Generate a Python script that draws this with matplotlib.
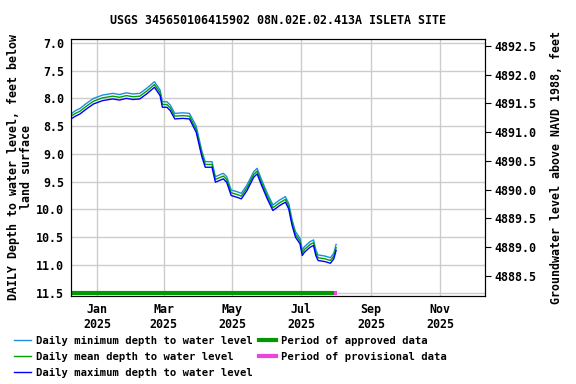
import numpy as np
import pandas as pd
import matplotlib
matplotlib.use("Agg")
import matplotlib.pyplot as plt
import matplotlib.dates as mdates
from matplotlib.lines import Line2D

# fechas de lectura (aprox. cada pocos dias)
fechas = pd.to_datetime([
    "2024-12-09", "2024-12-13", "2024-12-17", "2024-12-22", "2024-12-29",
    "2025-01-06", "2025-01-15", "2025-01-21", "2025-01-27", "2025-02-02",
    "2025-02-08", "2025-02-14", "2025-02-21", "2025-02-26", "2025-02-28",
    "2025-03-04", "2025-03-07", "2025-03-11", "2025-03-18", "2025-03-24",
    "2025-03-30", "2025-04-04", "2025-04-07", "2025-04-13", "2025-04-16",
    "2025-04-23", "2025-04-26", "2025-04-30", "2025-05-05", "2025-05-09",
    "2025-05-14", "2025-05-20", "2025-05-23", "2025-05-27", "2025-06-01",
    "2025-06-06", "2025-06-12", "2025-06-17", "2025-06-20", "2025-06-23",
    "2025-06-26", "2025-06-30", "2025-07-02", "2025-07-04", "2025-07-09",
    "2025-07-12", "2025-07-14", "2025-07-16", "2025-07-22", "2025-07-27",
    "2025-07-30", "2025-08-01",
])

# profundidad media diaria (pies bajo superficie)
media = [8.32, 8.27, 8.23, 8.15, 8.05,
         7.99, 7.96, 7.98, 7.95, 7.97,
         7.96, 7.87, 7.75, 7.90, 8.11,
         8.11, 8.17, 8.32, 8.31, 8.32,
         8.56, 9.00, 9.19, 9.19, 9.46,
         9.40, 9.46, 9.70, 9.73, 9.76,
         9.61, 9.37, 9.31, 9.52, 9.76,
         9.97, 9.88, 9.82, 9.94, 10.24,
         10.45, 10.57, 10.78, 10.72, 10.63,
         10.60, 10.78, 10.87, 10.89, 10.92,
         10.84, 10.69]

# profundidad minima diaria
minimo = [8.28, 8.22, 8.18, 8.10, 8.00,
          7.94, 7.91, 7.93, 7.90, 7.92,
          7.91, 7.82, 7.70, 7.85, 8.06,
          8.06, 8.12, 8.27, 8.26, 8.27,
          8.50, 8.95, 9.14, 9.14, 9.41,
          9.35, 9.41, 9.65, 9.68, 9.71,
          9.56, 9.32, 9.26, 9.47, 9.71,
          9.92, 9.83, 9.77, 9.89, 10.19,
          10.40, 10.52, 10.73, 10.67, 10.58,
          10.55, 10.73, 10.82, 10.84, 10.87,
          10.79, 10.63]

# profundidad maxima diaria
maximo = [8.37, 8.32, 8.28, 8.20, 8.10,
          8.04, 8.01, 8.03, 8.00, 8.02,
          8.01, 7.92, 7.80, 7.95, 8.16,
          8.16, 8.22, 8.37, 8.36, 8.37,
          8.61, 9.05, 9.24, 9.24, 9.51,
          9.45, 9.51, 9.75, 9.78, 9.81,
          9.66, 9.42, 9.36, 9.57, 9.81,
          10.02, 9.93, 9.87, 9.99, 10.29,
          10.50, 10.62, 10.83, 10.77, 10.68,
          10.65, 10.83, 10.92, 10.94, 10.97,
          10.89, 10.74]

periodo_aprobado = pd.to_datetime(["2024-12-09", "2025-07-30"])
periodo_provisional = pd.to_datetime(["2025-07-30", "2025-08-02"])

titulo = "USGS 345650106415902 08N.02E.02.413A ISLETA SITE"
meses = pd.to_datetime(["2025-01-01", "2025-03-01", "2025-05-01",
                        "2025-07-01", "2025-09-01", "2025-11-01"])

fuente = "DejaVu Sans Mono"
c_min = "#1a8fdf"
c_media = "#00a000"
c_max = "#0000ff"
c_aprob = "#009900"
c_prov = "#ee44dd"

fig = plt.figure(figsize=(5.76, 3.84), dpi=100)
ax = fig.add_axes([71/576, 1-296/384, (485-71)/576, (296-39)/384])

ax.plot(fechas, minimo, color=c_min, lw=1)
ax.plot(fechas, media, color=c_media, lw=1)
ax.plot(fechas, maximo, color=c_max, lw=1)
ax.plot(periodo_aprobado, [11.5, 11.5], color=c_aprob, lw=3, solid_capstyle="butt")
ax.plot(periodo_provisional, [11.5, 11.5], color=c_prov, lw=3, solid_capstyle="butt")

ax.set_xlim(pd.Timestamp("2024-12-09"), pd.Timestamp("2025-12-11"))
ax.set_ylim(11.56, 6.93)
ax.set_yticks(np.arange(7.0, 11.51, 0.5))
ax.set_yticklabels([f"{v:.1f}" for v in np.arange(7.0, 11.51, 0.5)],
                   fontfamily=fuente, fontweight="bold", fontsize=8.4)
ax.set_xticks(meses)
ax.set_xticklabels([d.strftime("%b") + "\n2025" for d in meses],
                   fontfamily=fuente, fontweight="bold", fontsize=8.4)
ax.tick_params(axis="both", length=0, pad=5)
ax.grid(color="#cccccc", lw=1)
ax.set_axisbelow(True)

ax2 = ax.twinx()
ax2.set_ylim(4888.15, 4892.62)
ax2.set_yticks(np.arange(4888.5, 4892.51, 0.5))
ax2.set_yticklabels([f"{v:.1f}" for v in np.arange(4888.5, 4892.51, 0.5)],
                    fontfamily=fuente, fontweight="bold", fontsize=8.4)
ax2.tick_params(axis="y", length=4, direction="out", pad=3)

fig.text(278/576, 1-20/384, titulo, ha="center", va="center",
         fontfamily=fuente, fontweight="bold", fontsize=8.4)
fig.text(20/576, 1-167/384, "DAILY Depth to water level, feet below\nland surface",
         ha="center", va="center", rotation=90, fontfamily=fuente,
         fontweight="bold", fontsize=8.4, linespacing=1.0)
fig.text(557/576, 1-167/384, "Groundwater level above NAVD 1988, feet",
         ha="center", va="center", rotation=90, fontfamily=fuente,
         fontweight="bold", fontsize=8.4)

manijas = [
    Line2D([], [], color=c_min, lw=1),
    Line2D([], [], color=c_media, lw=1),
    Line2D([], [], color=c_max, lw=1),
    Line2D([], [], color=c_aprob, lw=3),
    Line2D([], [], color=c_prov, lw=3),
]
etiquetas = ["Daily minimum depth to water level",
             "Daily mean depth to water level",
             "Daily maximum depth to water level",
             "Period of approved data",
             "Period of provisional data"]
fig.legend(manijas, etiquetas, ncol=2, loc="upper left",
           bbox_to_anchor=(14/576, 1-336/384), frameon=False,
           borderpad=0, borderaxespad=0, handlelength=1.6,
           handletextpad=0.5, columnspacing=0.6, labelspacing=0.55,
           prop={"family": fuente, "weight": "bold", "size": 7.6})

fig.savefig("out.png", dpi=100)
